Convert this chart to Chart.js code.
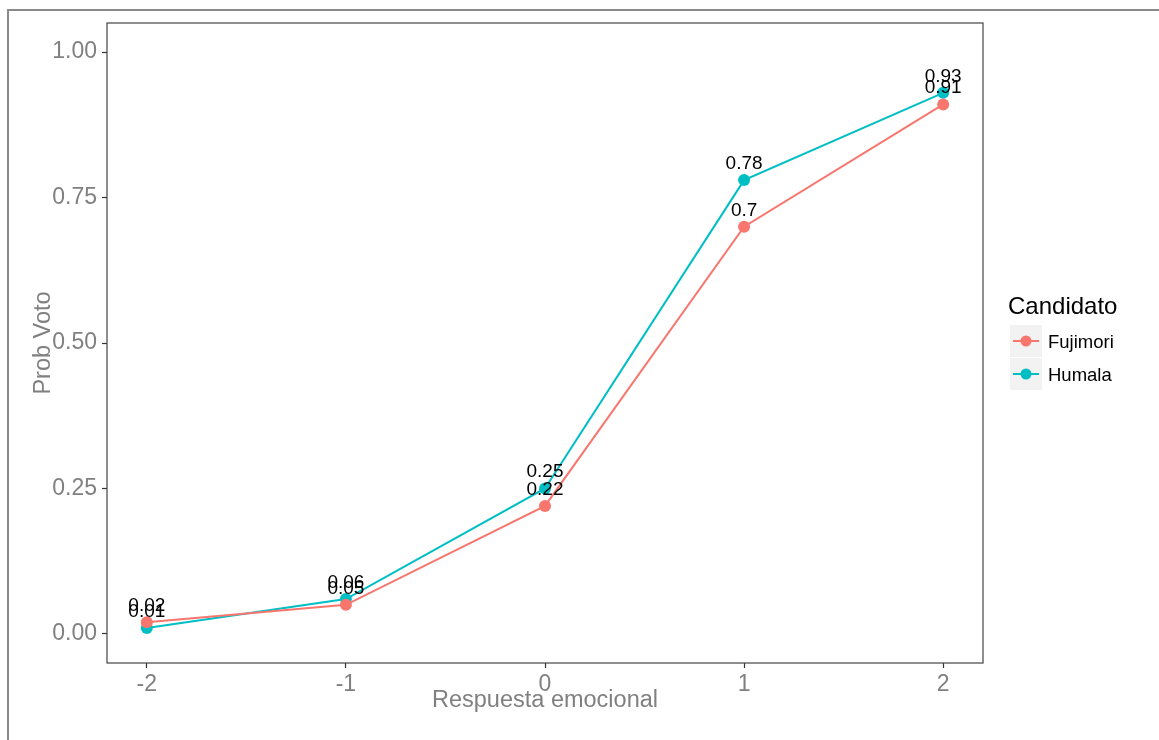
<!DOCTYPE html>
<html>
<head>
<meta charset="utf-8">
<script src="https://cdn.jsdelivr.net/npm/chart.js@4"></script>
<style>
    html, body { margin: 0; padding: 0; background: #fff; }
    #wrap { width: 1159px; height: 740px; position: relative; }
</style>
</head>
<body>
<div id="wrap"><canvas id="chart"></canvas></div>
<script>
const respuesta = [-2, -1, 0, 1, 2];
const fujimori = [0.02, 0.05, 0.22, 0.70, 0.91];
const humala = [0.01, 0.06, 0.25, 0.78, 0.93];
const yTicks = [0, 0.25, 0.5, 0.75, 1];

const RED = "#F8766D";
const CYAN = "#00BFC4";
const FONT = "'Liberation Sans', Arial, Helvetica, sans-serif";

const toPoints = (values) => respuesta.map((x, i) => ({ x, y: values[i] }));

// frame, panel border, value labels, axis titles and legend
const decorations = {
    id: "decorations",
    beforeDraw: (chart) => {
        const ctx = chart.ctx;
        ctx.save();
        ctx.fillStyle = "#fff";
        ctx.fillRect(0, 0, chart.width, chart.height);
        ctx.strokeStyle = "#8a8a8a";
        ctx.lineWidth = 2;
        ctx.beginPath();
        ctx.moveTo(8, chart.height);
        ctx.lineTo(8, 10);
        ctx.lineTo(chart.width, 10);
        ctx.stroke();
        ctx.restore();
    },
    afterDraw: (chart) => {
        const ctx = chart.ctx;
        const area = chart.chartArea;
        ctx.save();

        ctx.strokeStyle = "#444";
        ctx.lineWidth = 1.2;
        ctx.strokeRect(area.left, area.top, area.right - area.left, area.bottom - area.top);

        ctx.font = `19px ${FONT}`;
        ctx.fillStyle = "#000";
        ctx.textAlign = "center";
        ctx.textBaseline = "alphabetic";
        chart.data.datasets.forEach((ds, di) => {
            chart.getDatasetMeta(di).data.forEach((pt, i) => {
                const v = ds.data[i].y;
                ctx.fillText(String(v), pt.x, pt.y - 11);
            });
        });

        ctx.fillStyle = "#808080";
        ctx.font = `23.5px ${FONT}`;
        ctx.textBaseline = "middle";
        ctx.fillText("Respuesta emocional", (area.left + area.right) / 2, 701);
        ctx.save();
        ctx.translate(44, (area.top + area.bottom) / 2);
        ctx.rotate(-Math.PI / 2);
        ctx.fillText("Prob Voto", 0, 0);
        ctx.restore();

        ctx.textBaseline = "alphabetic";
        ctx.textAlign = "left";
        ctx.fillStyle = "#000";
        ctx.font = `24px ${FONT}`;
        ctx.fillText("Candidato", 1008, 314);

        const entries = [["Fujimori", RED], ["Humala", CYAN]];
        entries.forEach(([name, color], i) => {
            const top = 325 + i * 33;
            ctx.fillStyle = "#f2f2f2";
            ctx.fillRect(1010, top, 32, 32);
            ctx.strokeStyle = color;
            ctx.lineWidth = 2;
            ctx.beginPath();
            ctx.moveTo(1013, top + 16);
            ctx.lineTo(1039, top + 16);
            ctx.stroke();
            ctx.fillStyle = color;
            ctx.beginPath();
            ctx.arc(1026, top + 16, 5.5, 0, Math.PI * 2);
            ctx.fill();
            ctx.fillStyle = "#000";
            ctx.font = `18.5px ${FONT}`;
            ctx.fillText(name, 1048, top + 23);
        });

        ctx.restore();
    }
};

new Chart(document.getElementById("chart"), {
    type: "line",
    data: {
        datasets: [
            {
                label: "Fujimori",
                data: toPoints(fujimori),
                borderColor: RED,
                backgroundColor: RED,
                borderWidth: 2,
                pointRadius: 6,
                pointHoverRadius: 6,
                pointBorderWidth: 0,
                tension: 0
            },
            {
                label: "Humala",
                data: toPoints(humala),
                borderColor: CYAN,
                backgroundColor: CYAN,
                borderWidth: 2,
                pointRadius: 6,
                pointHoverRadius: 6,
                pointBorderWidth: 0,
                tension: 0
            }
        ]
    },
    options: {
        responsive: true,
        maintainAspectRatio: false,
        animation: false,
        layout: { padding: { top: 23, right: 176, left: 0, bottom: 0 } },
        scales: {
            x: {
                type: "linear",
                min: -2.2,
                max: 2.2,
                afterBuildTicks: (scale) => { scale.ticks = respuesta.map((v) => ({ value: v })); },
                afterFit: (scale) => { scale.height = 77; },
                grid: { drawOnChartArea: false, tickLength: 5, color: "#333", tickWidth: 1.2 },
                border: { display: false },
                ticks: { color: "#808080", font: { size: 23, family: FONT }, padding: 3 }
            },
            y: {
                min: -0.05,
                max: 1.05,
                afterBuildTicks: (scale) => { scale.ticks = yTicks.map((v) => ({ value: v })); },
                afterFit: (scale) => { scale.width = 107; },
                grid: { drawOnChartArea: false, tickLength: 5, color: "#333", tickWidth: 1.2 },
                border: { display: false },
                ticks: {
                    color: "#808080",
                    font: { size: 23, family: FONT },
                    padding: 5,
                    callback: (v) => v.toFixed(2)
                }
            }
        },
        plugins: { legend: { display: false }, tooltip: { enabled: false } }
    },
    plugins: [decorations]
});
</script>
</body>
</html>
